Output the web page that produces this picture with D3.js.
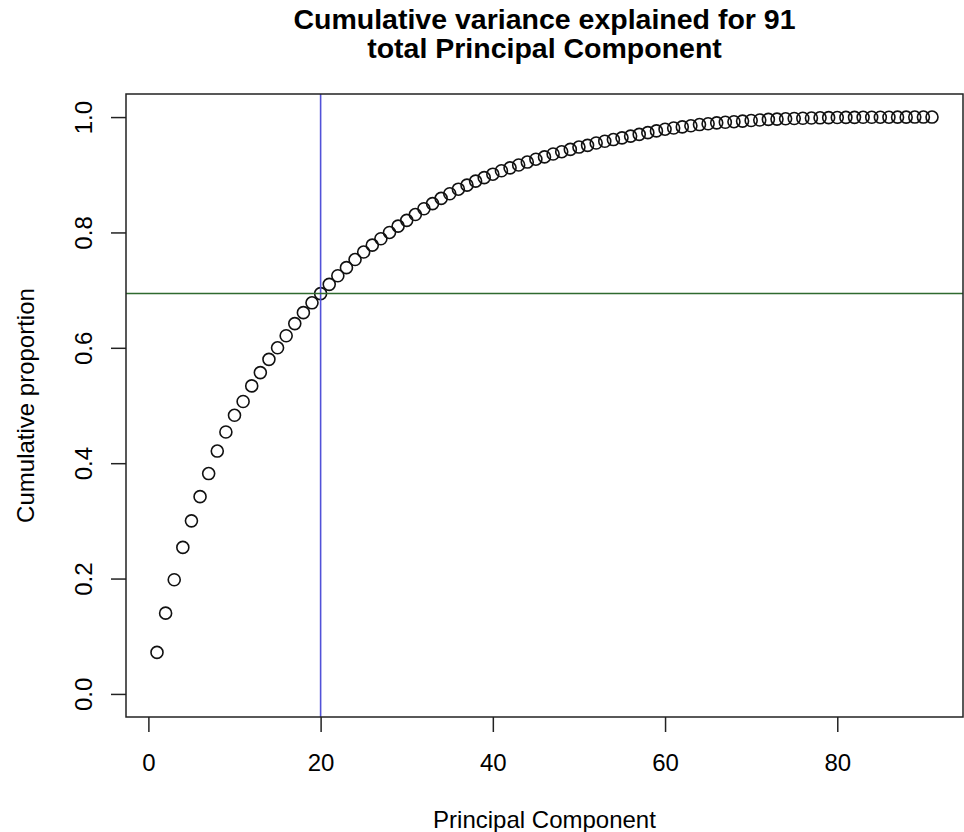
<!DOCTYPE html>
<html>
<head>
<meta charset="utf-8">
<script src="https://cdn.jsdelivr.net/npm/d3@7"></script>
<style>
  body { margin: 0; background: #fff; }
  svg text { font-family: "Liberation Sans", Arial, Helvetica, sans-serif; fill: #000; }
</style>
</head>
<body>
<svg id="chart"></svg>
<script>
const width = 964;
const height = 832;

// cumulative proportion of variance, one value per principal component (1..91)
const cumulative = [
  0.072, 0.140, 0.198, 0.254, 0.300, 0.342, 0.382, 0.421, 0.454, 0.483,
  0.507, 0.534, 0.557, 0.580, 0.600, 0.621, 0.642, 0.661, 0.678, 0.694,
  0.710, 0.725, 0.739, 0.753, 0.766, 0.778, 0.789, 0.800, 0.811, 0.821,
  0.831, 0.841, 0.850, 0.859, 0.867, 0.875, 0.882, 0.889, 0.895, 0.901,
  0.907, 0.912, 0.917, 0.922, 0.927, 0.931, 0.936, 0.940, 0.944, 0.948,
  0.951, 0.955, 0.958, 0.961, 0.964, 0.967, 0.970, 0.973, 0.976, 0.979,
  0.981, 0.983, 0.985, 0.987, 0.9885, 0.990, 0.991, 0.992, 0.993, 0.994,
  0.995, 0.996, 0.9965, 0.997, 0.9975, 0.998, 0.9984, 0.9987, 0.999, 0.9992,
  0.9994, 0.9995, 0.9996, 0.9997, 0.9998, 0.9998, 0.9999, 0.9999, 1.0, 1.0,
  1.0
];
const xTicks = [0, 20, 40, 60, 80];
const yTicks = [0, 0.2, 0.4, 0.6, 0.8, 1.0];
const cutoffComponent = 20;   // blue vertical line
const cutoffProportion = 0.694; // green horizontal line
const titleLines = ['Cumulative variance explained for 91', 'total Principal Component'];

const points = cumulative.map((v, i) => ({ pc: i + 1, value: v }));

// plot box (R style, 4% padding on each axis)
const box = { left: 126, right: 963, top: 94, bottom: 717 };

const x = d3.scaleLinear().domain([-2.6, 94.6]).range([box.left, box.right]);
const y = d3.scaleLinear().domain([-0.04, 1.04]).range([box.bottom, box.top]);

const svg = d3.select('#chart')
  .attr('width', width)
  .attr('height', height);

svg.append('defs').append('clipPath').attr('id', 'plotClip')
  .append('rect')
  .attr('x', box.left).attr('y', box.top)
  .attr('width', box.right - box.left).attr('height', box.bottom - box.top);

// x axis
const xAxis = svg.append('g')
  .attr('transform', `translate(0,${box.bottom})`)
  .call(d3.axisBottom(x).tickValues(xTicks).tickSize(15).tickPadding(22).tickSizeOuter(0));
xAxis.select('.domain').remove();
xAxis.selectAll('line').attr('stroke', '#222').attr('stroke-width', 1.5);
xAxis.selectAll('text').attr('font-size', 24).attr('fill', '#111');

// y axis, labels rotated like R's las=0
const yAxis = svg.append('g')
  .attr('transform', `translate(${box.left},0)`)
  .call(d3.axisLeft(y).tickValues(yTicks).tickSize(15).tickFormat(d3.format('.1f')).tickSizeOuter(0));
yAxis.select('.domain').remove();
yAxis.selectAll('line').attr('stroke', '#222').attr('stroke-width', 1.5);
yAxis.selectAll('text')
  .attr('font-size', 24)
  .attr('fill', '#111')
  .attr('x', null).attr('dy', null)
  .attr('text-anchor', 'middle')
  .attr('transform', 'translate(-34,0) rotate(-90)');

// points
svg.append('g')
  .selectAll('circle')
  .data(points)
  .join('circle')
  .attr('cx', d => x(d.pc))
  .attr('cy', d => y(d.value))
  .attr('r', 6)
  .attr('fill', 'none')
  .attr('stroke', '#111')
  .attr('stroke-width', 1.6);

// reference lines (abline)
const refs = svg.append('g').attr('clip-path', 'url(#plotClip)');
refs.append('line')
  .attr('x1', x(cutoffComponent)).attr('x2', x(cutoffComponent))
  .attr('y1', box.top).attr('y2', box.bottom)
  .attr('stroke', '#5252d8').attr('stroke-width', 1.6);
refs.append('line')
  .attr('x1', box.left).attr('x2', box.right)
  .attr('y1', y(cutoffProportion)).attr('y2', y(cutoffProportion))
  .attr('stroke', '#2f6a2f').attr('stroke-width', 1.5);

// frame
svg.append('rect')
  .attr('x', box.left).attr('y', box.top)
  .attr('width', box.right - box.left).attr('height', box.bottom - box.top)
  .attr('fill', 'none')
  .attr('stroke', '#222')
  .attr('stroke-width', 1.5);

// title, two lines
const midX = (box.left + box.right) / 2;
svg.append('g')
  .selectAll('text')
  .data(titleLines)
  .join('text')
  .attr('x', midX)
  .attr('y', (d, i) => 29 + i * 29)
  .attr('text-anchor', 'middle')
  .attr('font-size', 28.5).attr('font-weight', 'bold')
  .text(d => d);

// axis titles
svg.append('text')
  .attr('x', midX).attr('y', 828)
  .attr('text-anchor', 'middle')
  .attr('font-size', 24)
  .attr('fill', '#111')
  .text('Principal Component');

svg.append('text')
  .attr('transform', `translate(34,${(box.top + box.bottom) / 2}) rotate(-90)`)
  .attr('text-anchor', 'middle')
  .attr('font-size', 24)
  .attr('fill', '#111')
  .text('Cumulative proportion');
</script>
</body>
</html>
